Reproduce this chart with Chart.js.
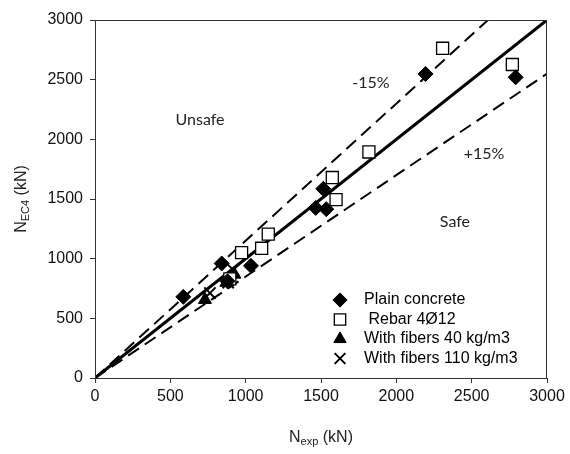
<!DOCTYPE html>
<html>
<head>
<meta charset="utf-8">
<script src="https://cdn.jsdelivr.net/npm/chart.js@4"></script>
<style>
  html, body { margin: 0; padding: 0; background: #fff; }
  #wrap { width: 570px; height: 454px; }
</style>
</head>
<body>
<div id="wrap"><canvas id="myChart"></canvas></div>
<script>
/* DATA */
const plainX = [586, 841, 880, 1035, 1465, 1515, 1535, 2194, 2792]
const plainY = [680, 960, 810, 940, 1425, 1585, 1415, 2548, 2520]
const rebarX = [895, 973, 1106, 1150, 1575, 1600, 1818, 2307, 2770]
const rebarY = [830, 1050, 1087, 1205, 1680, 1495, 1894, 2763, 2627]
const fib40X = [730, 872, 925]
const fib40Y = [656, 800, 868]
const fib110X = [763, 884, 918]
const fib110Y = [712, 800, 905]
const seriesNames = ['Plain concrete', ' Rebar 4\u00D812', 'With fibers 40 kg/m3', 'With fibers 110 kg/m3']
const ratios = [1, 1.15, 0.85]
const axisMax = 3000
const tickStep = 500

const pts = (xs, ys) => xs.map((x, i) => ({ x: x, y: ys[i] }))

// line through origin with slope r, clipped to the 3000 box
const ratioLine = r => {
  const end = r >= 1 ? { x: axisMax / r, y: axisMax } : { x: axisMax, y: axisMax * r }
  return [{ x: 0, y: 0 }, end]
}

const markers = [
  { pointStyle: 'rectRot', radius: 7.5, bg: '#000', border: '#000', bw: 1 },
  { pointStyle: 'rect', radius: 8.5, bg: '#fff', border: '#000', bw: 1.3 },
  { pointStyle: 'triangle', radius: 7.5, bg: '#000', border: '#000', bw: 1 },
  { pointStyle: 'crossRot', radius: 8, bg: '#000', border: '#000', bw: 2 }
]

const scatterSets = [
  pts(plainX, plainY), pts(rebarX, rebarY), pts(fib40X, fib40Y), pts(fib110X, fib110Y)
].map((d, i) => ({
  type: 'scatter',
  label: seriesNames[i],
  data: d,
  pointStyle: markers[i].pointStyle,
  pointRadius: markers[i].radius,
  pointBackgroundColor: markers[i].bg,
  pointBorderColor: markers[i].border,
  pointBorderWidth: markers[i].bw,
  order: 0
}))

const lineSets = ratios.map(r => ({
  type: 'line',
  label: 'ratio ' + r,
  data: ratioLine(r),
  borderColor: '#000',
  borderWidth: r === 1 ? 3 : 2,
  borderDash: r === 1 ? [] : [13, 7],
  pointRadius: 0,
  fill: false,
  order: 1
}))

/* annotations: text placed in data space */
const notes = [
  { text: 'Unsafe', x: 697, y: 2165 },
  { text: '-15%', x: 1832, y: 2475 },
  { text: '+15%', x: 2582, y: 1877 },
  { text: 'Safe', x: 2389, y: 1310 }
]

const sansFamily = 'Liberation Sans, Arial, sans-serif'

function subText(ctx, parts, cx, cy) {
  let w = 0
  parts.forEach(p => { ctx.font = p.size + 'px ' + sansFamily; w += ctx.measureText(p.t).width })
  let x = cx - w / 2
  ctx.textAlign = 'left'
  ctx.textBaseline = 'middle'
  parts.forEach(p => {
    ctx.font = p.size + 'px ' + sansFamily
    ctx.fillText(p.t, x, cy + (p.dy || 0))
    x += ctx.measureText(p.t).width
  })
}

const extras = {
  id: 'extras',
  afterDraw(chart) {
    const ctx = chart.ctx, a = chart.chartArea
    const xs = chart.scales.x, ys = chart.scales.y
    ctx.save()
    // frame
    ctx.strokeStyle = '#333'
    ctx.lineWidth = 1
    ctx.strokeRect(a.left + 0.5, a.top + 0.5, a.right - a.left - 1, a.bottom - a.top)
    // notes
    ctx.fillStyle = '#222'
    ctx.font = '16px Lato, "Open Sans", sans-serif'
    ctx.textAlign = 'center'
    ctx.textBaseline = 'middle'
    notes.forEach(n => ctx.fillText(n.text, xs.getPixelForValue(n.x), ys.getPixelForValue(n.y)))
    // legend
    const lx = a.left + 245, ly = a.bottom - 78
    scatterSets.forEach((s, i) => {
      const y = ly + i * 19.5
      ctx.fillStyle = markers[i].bg
      ctx.strokeStyle = markers[i].border
      ctx.lineWidth = markers[i].bw
      Chart.helpers.drawPoint(ctx, { pointStyle: markers[i].pointStyle, radius: markers[i].radius * 0.95, borderWidth: markers[i].bw }, lx, y)
      ctx.fillStyle = '#000'
      ctx.font = '16px ' + sansFamily
      ctx.textAlign = 'left'
      ctx.textBaseline = 'middle'
      ctx.fillText(s.label, lx + 24, y)
    })
    // axis titles with subscripts
    ctx.fillStyle = '#222'
    subText(ctx, [{ t: 'N', size: 16 }, { t: 'exp', size: 11, dy: 4 }, { t: ' (kN)', size: 16 }], (a.left + a.right) / 2, 438)
    ctx.translate(22, (a.top + a.bottom) / 2)
    ctx.rotate(-Math.PI / 2)
    subText(ctx, [{ t: 'N', size: 16 }, { t: 'EC4', size: 11, dy: 4 }, { t: ' (kN)', size: 16 }], 0, 0)
    ctx.restore()
  }
}

const tickFont = { family: sansFamily, size: 16 }
const plainTick = v => String(v)

var ctx = document.getElementById('myChart').getContext('2d');
var myChart = new Chart(ctx, {
  data: { datasets: [...lineSets, ...scatterSets] },
  options: {
    responsive: true,
    maintainAspectRatio: false,
    animation: false,
    layout: { padding: { left: 0, top: 20, right: 23, bottom: 0 } },
    plugins: {
      legend: { display: false },
      tooltip: { enabled: false }
    },
    scales: {
      x: {
        type: 'linear',
        min: 0, max: axisMax,
        ticks: { stepSize: tickStep, color: '#111', font: tickFont, padding: 4, maxRotation: 0, callback: plainTick },
        grid: { drawOnChartArea: false, drawTicks: true, tickLength: 5, color: '#333' },
        border: { display: true, color: '#333' },
        afterFit: s => { s.height = 76 }
      },
      y: {
        type: 'linear',
        min: 0, max: axisMax,
        ticks: { stepSize: tickStep, color: '#111', font: tickFont, padding: 7, callback: plainTick },
        grid: { drawOnChartArea: false, drawTicks: true, tickLength: 5, color: '#333' },
        border: { display: true, color: '#333' },
        afterFit: s => { s.width = 95 }
      }
    }
  },
  plugins: [extras]
});
</script>
</body>
</html>
